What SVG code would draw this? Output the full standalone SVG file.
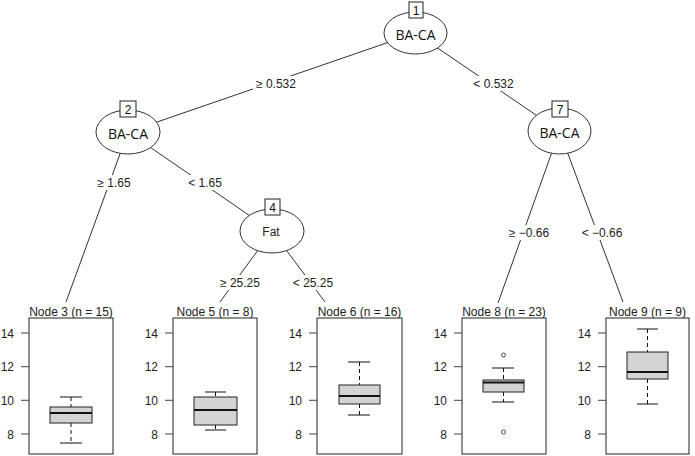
<svg xmlns="http://www.w3.org/2000/svg" width="695" height="456" viewBox="0 0 695 456">
<style>
.edge{stroke:#333;stroke-width:1;fill:none}
.lbg{fill:#fff;stroke:none}
.elbl{font-family:"Liberation Sans",Arial,sans-serif;font-size:12px;fill:#222;text-anchor:middle}
.ell{fill:#fff;stroke:#333;stroke-width:1}
.idbox{fill:#fff;stroke:#222;stroke-width:1}
.idtxt{font-family:"Liberation Sans",Arial,sans-serif;font-size:12px;fill:#111;text-anchor:middle}
.var{font-family:"Open Sans","Liberation Sans",Arial,sans-serif;font-size:14px;fill:#111;text-anchor:middle}
.var2{font-family:"Liberation Sans",Arial,sans-serif;font-size:12px;fill:#222;text-anchor:middle}
.ttl{font-family:"Liberation Sans",Arial,sans-serif;font-size:12px;fill:#222;text-anchor:middle}
.panel{fill:#fff;stroke:#222;stroke-width:1}
.tick{stroke:#444;stroke-width:1}
.ax{font-family:"Liberation Sans",Arial,sans-serif;font-size:12px;fill:#222;text-anchor:end}
.box{fill:#d3d3d3;stroke:#222;stroke-width:1}
.med{stroke:#111;stroke-width:2}
.wh{stroke:#111;stroke-width:1;stroke-dasharray:4 3}
.cap{stroke:#111;stroke-width:1}
.out{fill:none;stroke:#222;stroke-width:0.8}
</style>
<defs>
<g id="axis">
<line class="tick" x1="-8" y1="333" x2="0" y2="333"/>
<line class="tick" x1="-8" y1="366.7" x2="0" y2="366.7"/>
<line class="tick" x1="-8" y1="400.3" x2="0" y2="400.3"/>
<line class="tick" x1="-8" y1="434" x2="0" y2="434"/>
<text class="ax" x="-15" y="337.5">14</text>
<text class="ax" x="-15" y="371">12</text>
<text class="ax" x="-15" y="404.5">10</text>
<text class="ax" x="-15" y="438.5">8</text>
</g>
</defs>
<g id="edges">
<line class="edge" x1="415.5" y1="33" x2="128" y2="132"/>
<line class="edge" x1="415.5" y1="33" x2="559.5" y2="131"/>
<line class="edge" x1="128" y1="132" x2="66" y2="302"/>
<line class="edge" x1="128" y1="132" x2="272" y2="231"/>
<line class="edge" x1="272" y1="231" x2="220" y2="302"/>
<line class="edge" x1="272" y1="231" x2="325" y2="302"/>
<line class="edge" x1="559.5" y1="131" x2="498" y2="303"/>
<line class="edge" x1="559.5" y1="131" x2="623" y2="302"/>
<rect class="lbg" x="253" y="76" width="46" height="15"/>
<text class="elbl" x="276" y="88">≥ 0.532</text>
<rect class="lbg" x="471" y="76" width="45" height="15"/>
<text class="elbl" x="493.5" y="88">&lt; 0.532</text>
<rect class="lbg" x="95" y="175" width="38" height="15"/>
<text class="elbl" x="114" y="187">≥ 1.65</text>
<rect class="lbg" x="186" y="175" width="38" height="15"/>
<text class="elbl" x="205" y="187">&lt; 1.65</text>
<rect class="lbg" x="216" y="275" width="48" height="15"/>
<text class="elbl" x="240" y="287">≥ 25.25</text>
<rect class="lbg" x="290" y="275" width="46" height="15"/>
<text class="elbl" x="313" y="287">&lt; 25.25</text>
<rect class="lbg" x="505" y="225" width="48" height="15"/>
<text class="elbl" x="529" y="237">≥ −0.66</text>
<rect class="lbg" x="579" y="225" width="46" height="15"/>
<text class="elbl" x="602" y="237">&lt; −0.66</text>
</g>
<g id="node1">
<ellipse class="ell" cx="415.5" cy="33" rx="31.5" ry="21"/>
<rect class="idbox" x="409" y="2" width="14" height="16"/>
<text class="idtxt" x="416" y="14.5">1</text>
<text class="var" x="415.5" y="40">BA-CA</text>
</g>
<g id="node2">
<ellipse class="ell" cx="128" cy="132" rx="32" ry="22"/>
<rect class="idbox" x="120" y="101" width="16" height="16"/>
<text class="idtxt" x="128" y="113.5">2</text>
<text class="var" x="128" y="138.5">BA-CA</text>
</g>
<g id="node4">
<ellipse class="ell" cx="272" cy="231" rx="32" ry="22"/>
<rect class="idbox" x="265" y="199" width="15" height="16"/>
<text class="idtxt" x="272.5" y="211.5">4</text>
<text class="var2" x="271" y="236">Fat</text>
</g>
<g id="node7">
<ellipse class="ell" cx="559.5" cy="131" rx="31.5" ry="23"/>
<rect class="idbox" x="552" y="101" width="16" height="16"/>
<text class="idtxt" x="560" y="113.5">7</text>
<text class="var" x="559.5" y="138">BA-CA</text>
</g>
<g id="node3">
<text class="ttl" x="71" y="315.5">Node 3 (n = 15)</text>
<rect class="panel" x="29" y="318" width="84" height="136"/>
<use href="#axis" x="29"/>
<line class="wh" x1="71" y1="397" x2="71" y2="407"/>
<line class="wh" x1="71" y1="423" x2="71" y2="443"/>
<line class="cap" x1="60" y1="397" x2="82" y2="397"/>
<line class="cap" x1="60" y1="443" x2="82" y2="443"/>
<rect class="box" x="50" y="407" width="42" height="16"/>
<line class="med" x1="50" y1="413" x2="92" y2="413"/>
</g>
<g id="node5">
<text class="ttl" x="215" y="315.5">Node 5 (n = 8)</text>
<rect class="panel" x="173" y="318" width="84" height="136"/>
<use href="#axis" x="173"/>
<line class="wh" x1="215.5" y1="392" x2="215.5" y2="397"/>
<line class="wh" x1="215.5" y1="425" x2="215.5" y2="430"/>
<line class="cap" x1="205" y1="392" x2="226" y2="392"/>
<line class="cap" x1="205" y1="430" x2="226" y2="430"/>
<rect class="box" x="194" y="397" width="43" height="28"/>
<line class="med" x1="194" y1="410" x2="237" y2="410"/>
</g>
<g id="node6">
<text class="ttl" x="359.5" y="315.5">Node 6 (n = 16)</text>
<rect class="panel" x="317" y="318" width="85" height="136"/>
<use href="#axis" x="317"/>
<line class="wh" x1="359.5" y1="362" x2="359.5" y2="385"/>
<line class="wh" x1="359.5" y1="404" x2="359.5" y2="415"/>
<line class="cap" x1="348" y1="362" x2="370" y2="362"/>
<line class="cap" x1="348" y1="415" x2="370" y2="415"/>
<rect class="box" x="339" y="385" width="41" height="19"/>
<line class="med" x1="339" y1="396" x2="380" y2="396"/>
</g>
<g id="node8">
<text class="ttl" x="504" y="315.5">Node 8 (n = 23)</text>
<rect class="panel" x="462" y="318" width="84" height="136"/>
<use href="#axis" x="462"/>
<line class="wh" x1="503.5" y1="368" x2="503.5" y2="380"/>
<line class="wh" x1="503.5" y1="392" x2="503.5" y2="402"/>
<line class="cap" x1="492" y1="368" x2="514" y2="368"/>
<line class="cap" x1="492" y1="402" x2="514" y2="402"/>
<rect class="box" x="483" y="380" width="41" height="12"/>
<line class="med" x1="483" y1="382.5" x2="524" y2="382.5"/>
<circle class="out" cx="503.5" cy="355" r="2"/>
<circle class="out" cx="503.5" cy="432" r="2"/>
</g>
<g id="node9">
<text class="ttl" x="647.5" y="315.5">Node 9 (n = 9)</text>
<rect class="panel" x="606" y="318" width="83" height="136"/>
<use href="#axis" x="606"/>
<line class="wh" x1="647.5" y1="329" x2="647.5" y2="352"/>
<line class="wh" x1="647.5" y1="379" x2="647.5" y2="404"/>
<line class="cap" x1="637" y1="329" x2="658" y2="329"/>
<line class="cap" x1="637" y1="404" x2="658" y2="404"/>
<rect class="box" x="627" y="352" width="41" height="27"/>
<line class="med" x1="627" y1="372" x2="668" y2="372"/>
</g>
</svg>
